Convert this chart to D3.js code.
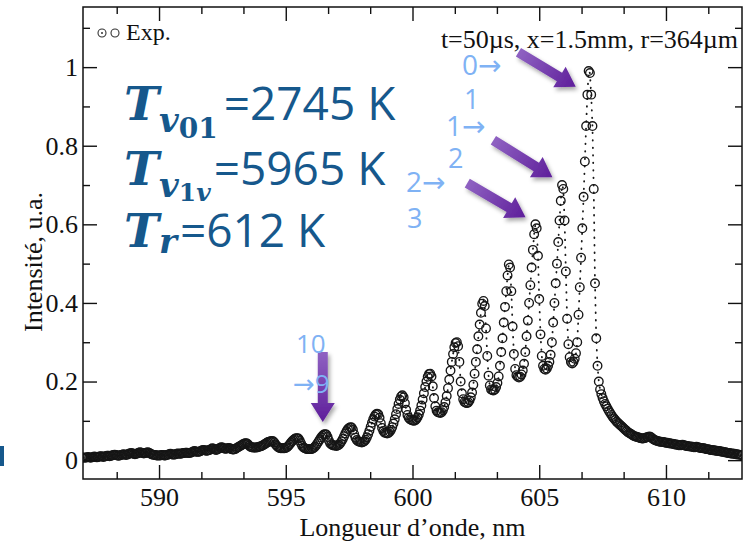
<!DOCTYPE html>
<html>
<head>
<meta charset="utf-8">
<script src="https://cdn.jsdelivr.net/npm/d3@7"></script>
<style>
  body { margin: 0; background: #fff; }
  svg { display: block; }
</style>
</head>
<body>
<svg id="chart" width="746" height="547"></svg>
<script>
// Emission spectrum sampled every 0.05 nm from 587.00 nm to 613.00 nm
const wavelengthStart = 587.0;
const wavelengthStep = 0.05;
const intensity = [
  // 587
  0.006,0.007,0.006,0.007,0.008,0.007,0.006,0.007,0.008,0.009,0.008,0.007,0.008,0.009,0.010,0.009,0.008,0.009,0.010,0.011,
  // 588
  0.011,0.010,0.011,0.012,0.013,0.014,0.013,0.012,0.011,0.012,0.013,0.014,0.015,0.014,0.013,0.014,0.016,0.017,0.018,0.017,
  // 589
  0.016,0.015,0.016,0.017,0.019,0.020,0.019,0.018,0.017,0.018,0.019,0.020,0.019,0.017,0.015,0.014,0.013,0.013,0.012,0.012,
  // 590
  0.012,0.012,0.013,0.013,0.012,0.012,0.013,0.014,0.015,0.016,0.015,0.014,0.014,0.015,0.016,0.017,0.016,0.016,0.017,0.018,
  // 591
  0.018,0.019,0.019,0.018,0.018,0.019,0.020,0.022,0.023,0.022,0.021,0.021,0.022,0.023,0.025,0.026,0.025,0.024,0.024,0.025,
  // 592
  0.026,0.028,0.030,0.029,0.027,0.026,0.027,0.029,0.031,0.033,0.032,0.030,0.029,0.029,0.030,0.031,0.030,0.028,0.027,0.027,
  // 593
  0.028,0.030,0.032,0.034,0.036,0.038,0.040,0.042,0.043,0.043,0.041,0.037,0.034,0.033,0.032,0.032,0.032,0.032,0.033,0.034,
  // 594
  0.035,0.036,0.038,0.040,0.042,0.044,0.046,0.047,0.048,0.049,0.048,0.045,0.040,0.036,0.033,0.031,0.030,0.030,0.030,0.030,
  // 595
  0.031,0.033,0.036,0.040,0.044,0.048,0.051,0.054,0.056,0.056,0.055,0.050,0.043,0.036,0.032,0.030,0.029,0.028,0.028,0.028,
  // 596
  0.028,0.029,0.031,0.034,0.038,0.043,0.048,0.053,0.058,0.062,0.065,0.066,0.065,0.059,0.050,0.043,0.040,0.038,0.037,0.037,
  // 597
  0.036,0.037,0.039,0.043,0.048,0.054,0.061,0.068,0.074,0.079,0.082,0.084,0.083,0.077,0.066,0.057,0.051,0.048,0.047,0.046,
  // 598
  0.045,0.046,0.048,0.052,0.058,0.066,0.075,0.085,0.095,0.104,0.111,0.116,0.118,0.117,0.108,0.094,0.082,0.074,0.070,0.069,
  // 599
  0.068,0.069,0.072,0.077,0.084,0.093,0.104,0.117,0.130,0.143,0.154,0.162,0.165,0.160,0.145,0.128,0.115,0.108,0.104,0.102,
  // 600
  0.101,0.100,0.101,0.104,0.109,0.116,0.126,0.139,0.154,0.170,0.186,0.200,0.212,0.219,0.220,0.213,0.188,0.158,0.137,0.126,
  // 601
  0.122,0.121,0.120,0.122,0.127,0.135,0.147,0.163,0.183,0.205,0.228,0.250,0.270,0.287,0.298,0.300,0.290,0.250,0.200,0.170,
  // 602
  0.155,0.148,0.146,0.145,0.147,0.152,0.160,0.172,0.192,0.220,0.250,0.282,0.315,0.345,0.375,0.398,0.405,0.392,0.335,0.265,
  // 603
  0.215,0.190,0.180,0.178,0.177,0.180,0.186,0.196,0.213,0.240,0.275,0.310,0.350,0.390,0.430,0.470,0.498,0.490,0.430,0.340,
  // 604
  0.270,0.232,0.216,0.212,0.210,0.212,0.218,0.228,0.245,0.275,0.315,0.355,0.400,0.445,0.490,0.535,0.575,0.600,0.590,0.520,
  // 605
  0.410,0.320,0.265,0.240,0.232,0.230,0.233,0.240,0.250,0.268,0.300,0.350,0.400,0.450,0.500,0.555,0.610,0.660,0.700,0.690,
  // 606
  0.610,0.480,0.360,0.295,0.262,0.250,0.246,0.250,0.258,0.272,0.300,0.370,0.440,0.515,0.590,0.670,0.760,0.850,0.930,0.990,
  // 607
  0.985,0.930,0.850,0.690,0.450,0.310,0.240,0.200,0.180,0.168,0.158,0.150,0.143,0.137,0.131,0.125,0.120,0.115,0.110,0.106,
  // 608
  0.102,0.098,0.095,0.092,0.089,0.086,0.083,0.080,0.077,0.074,0.071,0.069,0.067,0.065,0.063,0.061,0.060,0.059,0.058,0.057,
  // 609
  0.056,0.055,0.055,0.056,0.057,0.058,0.059,0.060,0.059,0.056,0.053,0.051,0.050,0.049,0.048,0.047,0.047,0.046,0.046,0.045,
  // 610
  0.044,0.044,0.043,0.043,0.042,0.042,0.041,0.040,0.040,0.039,0.038,0.038,0.038,0.039,0.038,0.037,0.036,0.036,0.035,0.035,
  // 611
  0.034,0.034,0.033,0.033,0.034,0.033,0.032,0.031,0.031,0.030,0.030,0.029,0.028,0.028,0.027,0.026,0.026,0.025,0.025,0.024,
  // 612
  0.024,0.023,0.023,0.022,0.022,0.021,0.020,0.020,0.019,0.018,0.018,0.017,0.017,0.016,0.016,0.015,0.015,0.014,0.014,0.013,
  // 613
  0.013
];

const xMajorTicks = [590, 595, 600, 605, 610];
const xMinorTicks = [588.33, 591.67, 593.33, 596.67, 598.33, 601.67, 603.33, 606.67, 608.33, 611.67];
const yMajorTicks = [0, 0.2, 0.4, 0.6, 0.8, 1];
const yMinorTicks = [0.1, 0.3, 0.5, 0.7, 0.9, 1.1];

const xTitle = "Longueur d\u2019onde, nm";
const yTitle = "Intensit\u00e9, u.a.";
const legendLabel = "Exp.";
const conditionsLabel = "t=50\u00b5s, x=1.5mm, r=364\u00b5m";

// Fitted temperatures shown in the text block
const temperatureLines = [
  { sub: [["v", "italic", 34, 12], ["01", "normal", 28, 6]], value: "=2745 K", dx: 6 },
  { sub: [["v", "italic", 34, 12], ["1", "normal", 25, 4], ["v", "italic", 25, 0]], value: "=5965 K", dx: 3 },
  { sub: [["r", "italic", 34, 6]], value: "=612 K", dx: 3 }
];

// Band-head markers (vibrational quantum numbers) and arrows pointing at peaks
const bandLabels = [
  { text: "0\u2192", x: 462, y: 75, size: 28 },
  { text: "1", x: 464, y: 109, size: 27 },
  { text: "1\u2192", x: 446, y: 136, size: 28 },
  { text: "2", x: 448, y: 168, size: 27 },
  { text: "2\u2192", x: 406, y: 192, size: 28 },
  { text: "3", x: 407, y: 228, size: 27 },
  { text: "10", x: 296, y: 353, size: 26 },
  { text: "\u21929", x: 293, y: 393, size: 26 }
];
const peakArrows = [
  { from: [604.18, 1.038], to: [606.44, 0.950] },
  { from: [603.19, 0.814], to: [605.52, 0.720] },
  { from: [602.16, 0.705], to: [604.46, 0.618] },
  { from: [596.46, 0.275], to: [596.46, 0.097] }
];

const svg = d3.select("#chart");
const plotLeft = 83, plotRight = 742, plotTop = 7, plotBottom = 479;

const x = d3.scaleLinear().domain([587, 613]).range([plotLeft, plotRight]);
const y = d3.scaleLinear().domain([-0.048, 1.153]).range([plotBottom, plotTop]);

const serif = "'Liberation Serif', 'Times New Roman', serif";
const sans = "'Open Sans', 'DejaVu Sans', sans-serif";
const mathSerif = "'DejaVu Serif', serif";

const points = intensity.map((v, i) => ({ w: wavelengthStart + i * wavelengthStep, v }));

const defs = svg.append("defs");
defs.append("clipPath").attr("id", "plotClip")
  .append("rect").attr("x", plotLeft).attr("y", plotTop)
  .attr("width", plotRight - plotLeft).attr("height", plotBottom - plotTop);

const shadow = defs.append("filter").attr("id", "arrowShadow")
  .attr("x", "-50%").attr("y", "-50%").attr("width", "200%").attr("height", "200%");
shadow.append("feDropShadow").attr("dx", 2).attr("dy", 3)
  .attr("stdDeviation", 2).attr("flood-color", "#000").attr("flood-opacity", 0.35);

// Data: dotted connecting line plus open circles
const plot = svg.append("g").attr("clip-path", "url(#plotClip)");
plot.append("path")
  .datum(points)
  .attr("d", d3.line().x(d => x(d.w)).y(d => y(d.v)))
  .attr("fill", "none")
  .attr("stroke", "#1a1a1a")
  .attr("stroke-width", 1.8)
  .attr("stroke-linecap", "round")
  .attr("stroke-dasharray", "0.5,7");
plot.selectAll("circle.pt")
  .data(points)
  .join("circle")
  .attr("class", "pt")
  .attr("cx", d => x(d.w))
  .attr("cy", d => y(d.v))
  .attr("r", 4.3)
  .attr("fill", "none")
  .attr("stroke", "#161616")
  .attr("stroke-width", 1.35);

// Axes: ticks point inward on all four sides
function styleAxis(g) {
  g.select(".domain").remove();
  g.selectAll(".tick line").attr("stroke", "#111").attr("stroke-width", 1.4);
  g.selectAll(".tick text").attr("font-family", serif).attr("font-size", 26).attr("fill", "#111");
}
svg.append("g").attr("transform", `translate(0,${plotBottom})`)
  .call(d3.axisBottom(x).tickValues(xMajorTicks).tickSizeInner(-14).tickSizeOuter(0).tickPadding(9).tickFormat(d3.format("d")))
  .call(styleAxis);
svg.append("g").attr("transform", `translate(0,${plotBottom})`)
  .call(d3.axisBottom(x).tickValues(xMinorTicks).tickSizeInner(-7).tickSizeOuter(0).tickFormat(""))
  .call(styleAxis);
svg.append("g").attr("transform", `translate(0,${plotTop})`)
  .call(d3.axisTop(x).tickValues(xMajorTicks).tickSizeInner(-14).tickSizeOuter(0).tickFormat(""))
  .call(styleAxis);
svg.append("g").attr("transform", `translate(0,${plotTop})`)
  .call(d3.axisTop(x).tickValues(xMinorTicks).tickSizeInner(-7).tickSizeOuter(0).tickFormat(""))
  .call(styleAxis);
svg.append("g").attr("transform", `translate(${plotLeft},0)`)
  .call(d3.axisLeft(y).tickValues(yMajorTicks).tickSizeInner(-14).tickSizeOuter(0).tickPadding(5).tickFormat(d => String(+d.toFixed(1))))
  .call(styleAxis);
svg.append("g").attr("transform", `translate(${plotLeft},0)`)
  .call(d3.axisLeft(y).tickValues(yMinorTicks).tickSizeInner(-7).tickSizeOuter(0).tickFormat(""))
  .call(styleAxis);
svg.append("g").attr("transform", `translate(${plotRight},0)`)
  .call(d3.axisRight(y).tickValues(yMajorTicks).tickSizeInner(-14).tickSizeOuter(0).tickFormat(""))
  .call(styleAxis);
svg.append("g").attr("transform", `translate(${plotRight},0)`)
  .call(d3.axisRight(y).tickValues(yMinorTicks).tickSizeInner(-7).tickSizeOuter(0).tickFormat(""))
  .call(styleAxis);

svg.append("rect")
  .attr("x", plotLeft).attr("y", plotTop)
  .attr("width", plotRight - plotLeft).attr("height", plotBottom - plotTop)
  .attr("fill", "none").attr("stroke", "#111").attr("stroke-width", 1.5);

// Axis titles
svg.append("text")
  .attr("x", (plotLeft + plotRight) / 2).attr("y", 536)
  .attr("text-anchor", "middle")
  .attr("font-family", serif).attr("font-size", 26).attr("fill", "#111")
  .text(xTitle);
svg.append("text")
  .attr("transform", "translate(42,262) rotate(-90)")
  .attr("text-anchor", "middle")
  .attr("font-family", serif).attr("font-size", 26).attr("fill", "#111")
  .text(yTitle);

// Legend
const legend = svg.append("g");
legend.append("circle").attr("cx", 102).attr("cy", 33).attr("r", 4)
  .attr("fill", "none").attr("stroke", "#333").attr("stroke-width", 1.1);
legend.append("circle").attr("cx", 102).attr("cy", 33).attr("r", 1)
  .attr("fill", "#333");
legend.append("circle").attr("cx", 115).attr("cy", 33).attr("r", 4)
  .attr("fill", "none").attr("stroke", "#333").attr("stroke-width", 1.1);
legend.append("text").attr("x", 126).attr("y", 40)
  .attr("font-family", serif).attr("font-size", 24).attr("fill", "#111")
  .text(legendLabel);

svg.append("text")
  .attr("x", 738).attr("y", 48).attr("text-anchor", "end")
  .attr("font-family", serif).attr("font-size", 26).attr("fill", "#111")
  .text(conditionsLabel);

// Peak arrows (purple, with a soft shadow)
function arrowPath(x1, y1, x2, y2, shaft, headHalf, headLen) {
  const dx = x2 - x1, dy = y2 - y1, len = Math.hypot(dx, dy);
  const ux = dx / len, uy = dy / len, nx = -uy, ny = ux;
  const bx = x2 - ux * headLen, by = y2 - uy * headLen;
  const p = [
    [x1 + nx * shaft, y1 + ny * shaft],
    [bx + nx * shaft, by + ny * shaft],
    [bx + nx * headHalf, by + ny * headHalf],
    [x2, y2],
    [bx - nx * headHalf, by - ny * headHalf],
    [bx - nx * shaft, by - ny * shaft],
    [x1 - nx * shaft, y1 - ny * shaft]
  ];
  return "M" + p.map(q => q.join(",")).join("L") + "Z";
}
peakArrows.forEach((a, i) => {
  const x1 = x(a.from[0]), y1 = y(a.from[1]), x2 = x(a.to[0]), y2 = y(a.to[1]);
  const grad = defs.append("linearGradient").attr("id", "arrowGrad" + i)
    .attr("gradientUnits", "userSpaceOnUse")
    .attr("x1", x1).attr("y1", y1).attr("x2", x2).attr("y2", y2);
  grad.append("stop").attr("offset", "0%").attr("stop-color", "#8f62c2");
  grad.append("stop").attr("offset", "100%").attr("stop-color", "#5e1e9a");
  svg.append("path")
    .attr("d", arrowPath(x1, y1, x2, y2, 5, 12, 19))
    .attr("fill", `url(#arrowGrad${i})`)
    .attr("filter", "url(#arrowShadow)");
});

// Band-number labels
svg.selectAll("text.band")
  .data(bandLabels)
  .join("text")
  .attr("class", "band")
  .attr("x", d => d.x).attr("y", d => d.y)
  .attr("font-family", sans).attr("font-size", d => d.size)
  .attr("fill", "#7fb2f4")
  .text(d => d.text);

// Temperature block
const tempColor = "#16588c";
temperatureLines.forEach((line, i) => {
  const t = svg.append("text")
    .attr("x", 124).attr("y", [120, 185, 247][i])
    .attr("fill", tempColor);
  t.append("tspan")
    .attr("font-family", mathSerif).attr("font-weight", "bold").attr("font-style", "italic")
    .attr("font-size", 47).text("T");
  let shift = 0;
  line.sub.forEach(([s, style, size, dy]) => {
    t.append("tspan")
      .attr("font-family", mathSerif).attr("font-weight", "bold").attr("font-style", style)
      .attr("font-size", size).attr("dy", dy).text(s);
    shift += dy;
  });
  t.append("tspan")
    .attr("font-family", sans).attr("font-size", 46)
    .attr("dy", -shift).attr("dx", line.dx)
    .text(line.value);
});

// Small marker at the left edge
svg.append("rect").attr("x", 0).attr("y", 446).attr("width", 4).attr("height", 20)
  .attr("fill", tempColor);
</script>
</body>
</html>
